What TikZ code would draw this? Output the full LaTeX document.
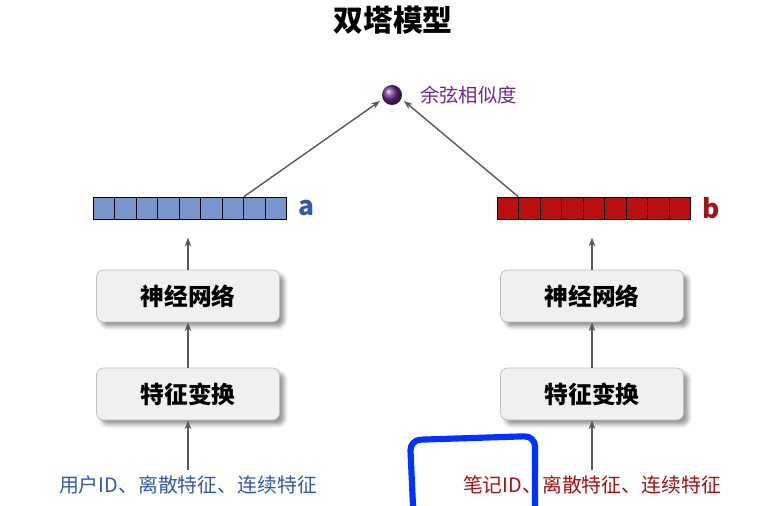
\documentclass[tikz,border=0pt]{standalone}
\usepackage{fontspec}
\setmainfont{Noto Sans CJK SC}
\usetikzlibrary{positioning,shadows.blur,arrows.meta}
\definecolor{vecblue}{RGB}{120,150,205}
\definecolor{vecred}{RGB}{185,15,15}
\definecolor{txtblue}{RGB}{50,90,170}
\definecolor{txtred}{RGB}{160,20,20}
\definecolor{simpurple}{RGB}{110,40,140}
\tikzset{
    layer/.style={draw=gray!50, fill=gray!12, rounded corners=4pt, minimum width=183*0.02cm,
        minimum height=52*0.02cm, font=\fontsize{13.5}{15}\selectfont\bfseries, blur shadow},
    up/.style={-{Stealth[length=5pt]}, thick, gray!70!black},
    cell/.style={draw=black, minimum width=21.5*0.02cm, minimum height=22*0.02cm, inner sep=0pt},
}
\begin{document}
\begin{tikzpicture}[x=0.02cm, y=-0.02cm]
    \useasboundingbox (0,0) rectangle (761,506);
    % title
    \node[font=\fontsize{17}{19}\selectfont\bfseries] (title) at (393,20) {双塔模型};
    % similarity
    \shade[ball color=simpurple] (392,95) circle (10);
    \coordinate (sim) at (392,95);
    \node[anchor=west, text=simpurple, font=\fontsize{11}{13}\selectfont] (simtxt) at (414,95) {余弦相似度};
    % vectors
    \foreach \i in {0,...,8} {
        \node[cell, fill=vecblue] (a\i) at (103.8+21.5*\i,208) {};
        \node[cell, fill=vecred] (b\i) at (507.8+21.5*\i,208) {};
    }
    \node[text=txtblue, font=\fontsize{15}{17}\selectfont\bfseries, right=3pt of a8] (alab) {a};
    \node[text=txtred, font=\fontsize{15}{17}\selectfont\bfseries, right=3pt of b8] (blab) {b};
    % towers
    \node[layer] (nnA) at (188,296) {神经网络};
    \node[layer] (ftA) at (188,394) {特征变换};
    \node[layer] (nnB) at (592,296) {神经网络};
    \node[layer] (ftB) at (592,394) {特征变换};
    \node[text=txtblue, font=\fontsize{11.3}{13}\selectfont] (inA) at (188,485) {用户ID、离散特征、连续特征};
    \node[text=txtred, font=\fontsize{11.3}{13}\selectfont] (inB) at (592,485) {笔记ID、离散特征、连续特征};
    % arrows
    \draw[up] (inA) -- (ftA);
    \draw[up] (ftA) -- (nnA);
    \draw[up] (nnA.north) -- ++(0,-32) coordinate (aIn);
    \draw[up] (inB) -- (ftB);
    \draw[up] (ftB) -- (nnB);
    \draw[up] (nnB.north) -- ++(0,-32) coordinate (bIn);
    \draw[up] (a6.north east) -- ([xshift=-12*0.02cm, yshift=-6*0.02cm]sim);
    \draw[up] (b1.north west) -- ([xshift=12*0.02cm, yshift=-6*0.02cm]sim);
    % hand mark
    \draw[line width=3.5pt, blue!80!cyan, rounded corners=6pt]
        (413,506) -- (410,440) -- (535,436) -- (535,506);
\end{tikzpicture}
\end{document}
